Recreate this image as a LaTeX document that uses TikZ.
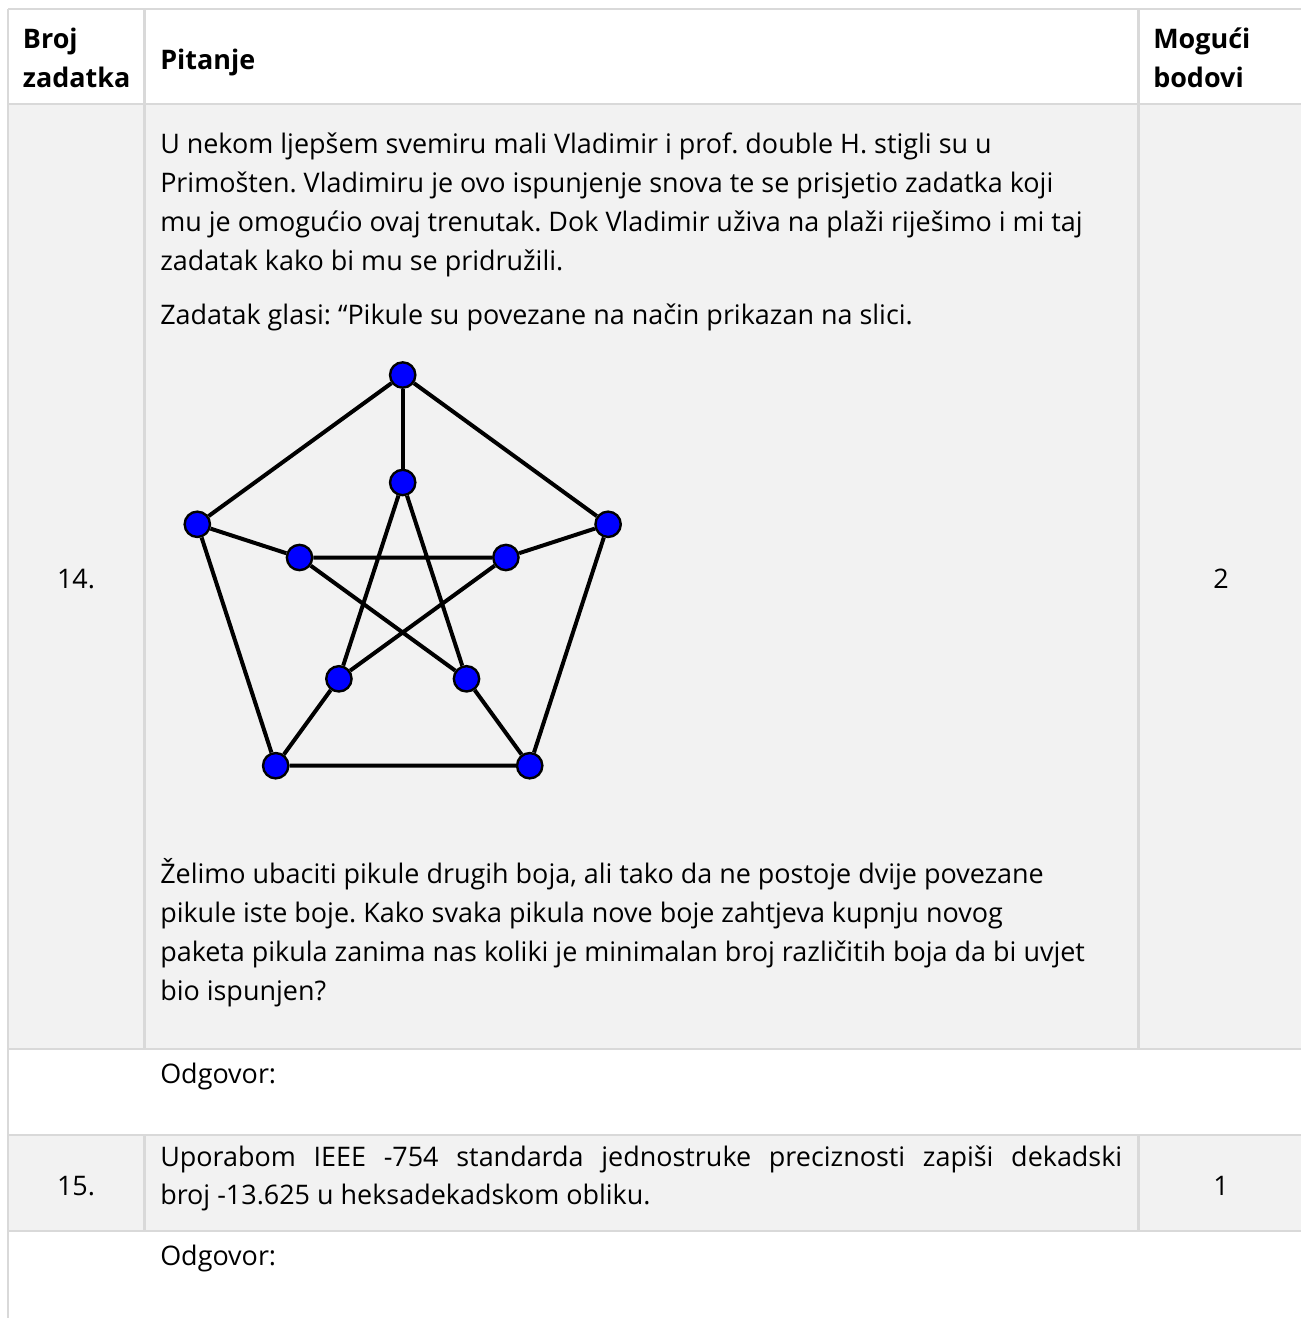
\documentclass[tikz,border=0pt]{standalone}
\usepackage{fontspec}
\setmainfont{Open Sans}
\usepackage{xcolor}
\usepackage{tikz}
\definecolor{rulegray}{HTML}{D9D9D9}
\definecolor{cellgray}{HTML}{F2F2F2}
\definecolor{marbleblue}{RGB}{0,0,255}
\frenchspacing

\begin{document}
\begin{tikzpicture}[x=0.75pt,y=0.75pt,yscale=-1,xscale=1,
  txt/.style={anchor=base west,inner sep=0pt,font=\fontsize{20.2}{29.5}\selectfont},
  head/.style={txt,font=\fontsize{20.2}{29.5}\selectfont\bfseries},
  num/.style={anchor=base,inner sep=0pt,font=\fontsize{20.2}{29.5}\selectfont},
  rule/.style={draw=rulegray,line width=2pt},
  marble/.style={circle,draw=black,fill=marbleblue,line width=1.8pt,minimum size=19pt,inner sep=0pt},
  link/.style={draw=black,line width=3pt}]
\useasboundingbox (0,0) rectangle (1301,1318);

%Cells
\fill[white] (0,0) rectangle (1301,1318);
\fill[cellgray] (8,104) rectangle (1301,1049);
\fill[cellgray] (8,1135) rectangle (1301,1231);

%Rules
\draw[rule] (8,9) -- (1301,9);
\draw[rule] (8,9) -- (8,1318);
\foreach \y in {104,1049,1135,1231}
  \draw[rule] (8,\y) -- (1301,\y);
\draw[rule] (144.5,9) -- (144.5,1049);
\draw[rule] (1138.5,9) -- (1138.5,1049);
\draw[rule] (144.5,1135) -- (144.5,1231);
\draw[rule] (1138.5,1135) -- (1138.5,1231);

%Header
\node[head] (broj) at (22.7,48) {Broj};
\node[head] (zadatka) at (22.7,87) {zadatka};
\node[head] (pitanje) at (160,69) {Pitanje};
\node[head] (moguci) at (1153,48) {Mogući};
\node[head] (bodovi) at (1153,87) {bodovi};

%Row 14
\node[num] (n14) at (76,588) {14.};
\node[num] (b14) at (1221,588) {2};
\foreach \l [count=\i from 0] in {{U nekom ljepšem svemiru mali Vladimir i prof. double H. stigli su u},
  {Primošten. Vladimiru je ovo ispunjenje snova te se prisjetio zadatka koji},
  {mu je omogućio ovaj trenutak. Dok Vladimir uživa na plaži riješimo i mi taj},
  {zadatak kako bi mu se pridružili.}}
  \node[txt] (uvod\i) at (160,153+39.3*\i) {\l};
\node[txt] (glasi) at (160,324) {Zadatak glasi: “Pikule su povezane na način prikazan na slici.};
\foreach \l [count=\i from 0] in {{Želimo ubaciti pikule drugih boja, ali tako da ne postoje dvije povezane},
  {pikule iste boje. Kako svaka pikula nove boje zahtjeva kupnju novog},
  {paketa pikula zanima nas koliki je minimalan broj različitih boja da bi uvjet},
  {bio ispunjen?}}
  \node[txt] (pitanje\i) at (160,883.3+39.2*\i) {\l};
\node[txt] (odg14) at (160,1083) {Odgovor:};

%Graph
\node[marble] (o1) at (402.7,375) {};
\node[marble] (o2) at (608.1,524.3) {};
\node[marble] (o3) at (529.7,765.7) {};
\node[marble] (o4) at (275.7,765.7) {};
\node[marble] (o5) at (197.3,524.3) {};
\node[marble] (i1) at (402.7,482.5) {};
\node[marble] (i2) at (505.9,557.5) {};
\node[marble] (i3) at (466.5,678.8) {};
\node[marble] (i4) at (338.9,678.8) {};
\node[marble] (i5) at (299.5,557.5) {};
\draw[link] (o1) -- (o2) -- (o3) -- (o4) -- (o5) -- (o1);
\foreach \k in {1,...,5}
  \draw[link] (o\k) -- (i\k);
\draw[link] (i1) -- (i3) -- (i5) -- (i2) -- (i4) -- (i1);

%Row 15
\node[num] (n15) at (76,1195) {15.};
\node[num] (b15) at (1221,1195) {1};
\node[txt] (ieee1) at (160,1166) {\makebox[721.5pt][s]{Uporabom IEEE -754 standarda jednostruke preciznosti zapiši dekadski}};
\node[txt] (ieee2) at (160,1204) {broj -13.625 u heksadekadskom obliku.};
\node[txt] (odg15) at (160,1265) {Odgovor:};
\end{tikzpicture}
\end{document}
